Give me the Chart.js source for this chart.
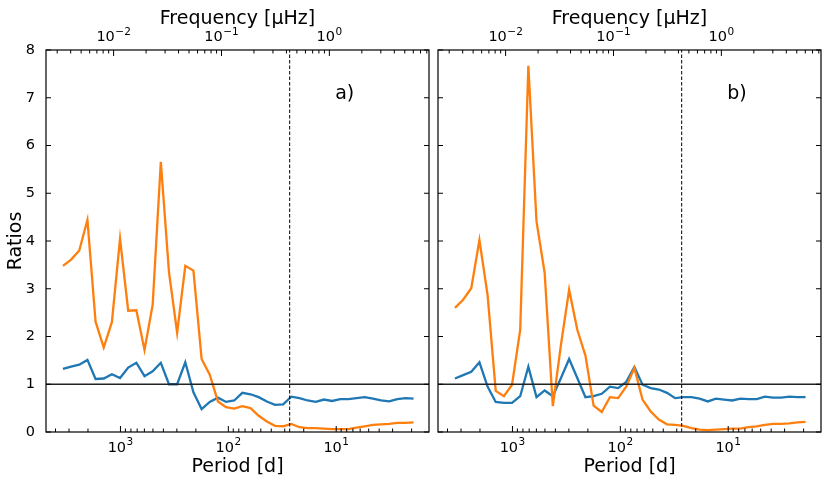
<!DOCTYPE html>
<html>
<head>
<meta charset="utf-8">
<script src="https://cdn.jsdelivr.net/npm/chart.js@4.4.1/dist/chart.umd.min.js"></script>
<style>
  body { margin: 0; background: #fff; width: 830px; height: 487px; position: relative; overflow: hidden; }
  canvas { position: absolute; top: 0; }
  #chartA { left: 0; }
  #chartB { left: 433px; }
</style>
</head>
<body>
<canvas id="chartA" width="433" height="487"></canvas>
<canvas id="chartB" width="397" height="487"></canvas>
<script>
// Periods [d] of the bins (same for both panels)
const periods = [3412, 2867, 2409, 2024, 1701, 1429, 1201, 1009, 847.7, 712.3,
  598.4, 502.9, 422.5, 355.0, 298.3, 250.6, 210.6, 176.9, 148.7, 124.9,
  104.9, 88.2, 74.1, 62.3, 52.3, 43.95, 36.93, 31.03, 26.07, 21.91,
  18.41, 15.47, 13.00, 10.92, 9.18, 7.71, 6.48, 5.44, 4.57, 3.84,
  3.23, 2.71, 2.28, 1.92];

// panel a)
const blueA = [1.32, 1.37, 1.41, 1.51, 1.11, 1.12, 1.21, 1.13, 1.35, 1.45,
  1.17, 1.27, 1.45, 1.00, 1.00, 1.46, 0.83, 0.48, 0.63, 0.72,
  0.63, 0.66, 0.82, 0.79, 0.73, 0.64, 0.57, 0.58, 0.74, 0.71,
  0.66, 0.63, 0.68, 0.65, 0.69, 0.69, 0.71, 0.73, 0.70, 0.66,
  0.64, 0.69, 0.71, 0.70];
const orangeA = [3.48, 3.61, 3.80, 4.44, 2.31, 1.77, 2.30, 4.05, 2.54, 2.55,
  1.72, 2.66, 5.66, 3.35, 2.08, 3.48, 3.38, 1.53, 1.20, 0.64,
  0.52, 0.49, 0.54, 0.50, 0.34, 0.22, 0.13, 0.12, 0.17, 0.10,
  0.08, 0.08, 0.07, 0.06, 0.06, 0.06, 0.09, 0.12, 0.15, 0.16,
  0.17, 0.19, 0.19, 0.20];

// panel b)
const blueB = [1.12, 1.19, 1.26, 1.46, 0.95, 0.63, 0.61, 0.61, 0.75, 1.37,
  0.73, 0.87, 0.75, 1.13, 1.53, 1.13, 0.73, 0.75, 0.80, 0.95,
  0.92, 1.05, 1.36, 0.99, 0.92, 0.89, 0.82, 0.71, 0.73, 0.73,
  0.70, 0.64, 0.70, 0.68, 0.66, 0.70, 0.69, 0.69, 0.74, 0.72,
  0.72, 0.74, 0.73, 0.73];
const orangeB = [2.60, 2.77, 3.01, 4.02, 2.87, 0.86, 0.75, 0.99, 2.14, 7.67,
  4.41, 3.33, 0.54, 1.83, 2.98, 2.14, 1.60, 0.55, 0.42, 0.73,
  0.71, 0.95, 1.34, 0.68, 0.43, 0.26, 0.16, 0.15, 0.13, 0.08,
  0.05, 0.04, 0.05, 0.06, 0.07, 0.07, 0.10, 0.12, 0.15, 0.17,
  0.17, 0.18, 0.20, 0.21];

// tick labels: base 10 with these exponents
const periodExps = [3, 2, 1];
const freqExps = [-2, -1, 0];
const periodRange = [1.38, 4900];   // days
const refRatio = 1;
const rotationPeriod = 27;          // days
const SEC_PER_DAY = 86400;

const toFreq = p => 1e6 / (p * SEC_PER_DAY);   // µHz
const FONT = '"DejaVu Sans", sans-serif';
const BLUE = '#1f77b4', ORANGE = '#ff7f0e';

function logTicks(min, max) {
  const out = [];
  for (let n = Math.floor(Math.log10(min)); n <= Math.ceil(Math.log10(max)); n++) {
    for (let k = 1; k < 10; k++) {
      const v = Number((k * Math.pow(10, n)).toPrecision(6));
      if (v >= min && v <= max) out.push(v);
    }
  }
  return out;
}
const decade = v => {
  const l = Math.log10(v);
  return Math.abs(l - Math.round(l)) < 1e-6 ? Math.round(l) : null;
};

// "10" with a raised exponent, centred on x, baseline at y
function powLabel(ctx, x, y, exp) {
  const e = String(exp).replace('-', '\u2212');
  ctx.font = '14.5px ' + FONT;
  const wb = ctx.measureText('10').width;
  ctx.font = '10.5px ' + FONT;
  const we = ctx.measureText(e).width;
  const x0 = x - (wb + we + 0.5) / 2;
  ctx.textAlign = 'left';
  ctx.textBaseline = 'alphabetic';
  ctx.font = '14.5px ' + FONT;
  ctx.fillText('10', x0, y);
  ctx.font = '10.5px ' + FONT;
  ctx.fillText(e, x0 + wb + 0.5, y - 6.5);
}

// inward ticks on all four sides, frame, power-of-ten labels and panel letter
const framePlugin = {
  id: 'frame',
  afterDraw(chart, args, opts) {
    const { ctx, chartArea: a, scales } = chart;
    ctx.save();
    ctx.strokeStyle = '#000';
    ctx.lineWidth = 1;
    const line = (x1, y1, x2, y2) => { ctx.beginPath(); ctx.moveTo(x1, y1); ctx.lineTo(x2, y2); ctx.stroke(); };
    scales.x.ticks.forEach(t => {
      const px = scales.x.getPixelForValue(t.value);
      line(px, a.bottom, px, a.bottom - (decade(t.value) !== null ? 6 : 3.5));
    });
    scales.x2.ticks.forEach(t => {
      const px = scales.x2.getPixelForValue(t.value);
      line(px, a.top, px, a.top + (decade(t.value) !== null ? 6 : 3.5));
    });
    scales.y.ticks.forEach(t => {
      const py = scales.y.getPixelForValue(t.value);
      line(a.left, py, a.left + 5, py);
      line(a.right, py, a.right - 5, py);
    });
    ctx.lineWidth = 1.2;
    ctx.strokeRect(a.left, a.top, a.width, a.height);

    ctx.fillStyle = '#000';
    periodExps.forEach(n => powLabel(ctx, scales.x.getPixelForValue(Math.pow(10, n)), a.bottom + 19.5, n));
    freqExps.forEach(n => powLabel(ctx, scales.x2.getPixelForValue(Math.pow(10, n)), a.top - 9, n));

    ctx.font = '19px ' + FONT;
    ctx.textAlign = 'left';
    ctx.textBaseline = 'middle';
    ctx.fillText(opts.label, a.left + a.width * 0.755, a.top + a.height * 0.115);
    ctx.restore();
  }
};

function makeChart(id, blue, orange, label, showY) {
  const pts = arr => periods.map((p, i) => ({ x: p, y: arr[i] }));
  return new Chart(document.getElementById(id), {
    type: 'line',
    data: {
      datasets: [
        { data: pts(blue), borderColor: BLUE, borderWidth: 2.3, order: 3 },
        { data: pts(orange), borderColor: ORANGE, borderWidth: 2.3, order: 2 },
        { data: [{ x: periodRange[0], y: refRatio }, { x: periodRange[1], y: refRatio }],
          borderColor: '#222', borderWidth: 1.3, order: 1 },
        { data: [{ x: rotationPeriod, y: 0 }, { x: rotationPeriod, y: 8 }],
          borderColor: '#000', borderWidth: 1, borderDash: [3.5, 2], order: 0 }
      ]
    },
    options: {
      responsive: false,
      animation: false,
      events: [],
      layout: { padding: { left: 0, right: showY ? 4 : 9, top: 0, bottom: 0 } },
      elements: { point: { radius: 0 }, line: { tension: 0, fill: false } },
      plugins: { legend: { display: false }, tooltip: { enabled: false }, frame: { label } },
      scales: {
        x: {
          type: 'logarithmic', position: 'bottom', reverse: true,
          min: periodRange[0], max: periodRange[1],
          grid: { display: false, drawTicks: false }, border: { display: false },
          afterBuildTicks: s => { s.ticks = logTicks(s.min, s.max).map(v => ({ value: v })); },
          afterFit: s => { s.height = 55; },
          ticks: { display: false, autoSkip: false },
          title: { display: true, text: 'Period [d]', color: '#000',
            font: { family: FONT, size: 19 }, padding: { top: 0, bottom: 9 } }
        },
        x2: {
          type: 'logarithmic', position: 'top',
          min: toFreq(periodRange[1]), max: toFreq(periodRange[0]),
          grid: { display: false, drawTicks: false }, border: { display: false },
          afterBuildTicks: s => { s.ticks = logTicks(s.min, s.max).map(v => ({ value: v })); },
          afterFit: s => { s.height = 50; },
          ticks: { display: false, autoSkip: false },
          title: { display: true, text: 'Frequency [μHz]', color: '#000',
            font: { family: FONT, size: 19 }, padding: { top: 7.5, bottom: 0 } }
        },
        y: {
          type: 'linear', min: 0, max: 8,
          grid: { display: false, drawTicks: false }, border: { display: false },
          afterFit: s => { s.width = showY ? 46 : 5; },
          ticks: { display: showY, stepSize: 1, padding: 11, color: '#000',
            font: { family: FONT, size: 14.5 } },
          title: { display: showY, text: 'Ratios', color: '#000',
            font: { family: FONT, size: 19 }, padding: { top: 5, bottom: 0 } }
        }
      }
    },
    plugins: [framePlugin]
  });
}

makeChart('chartA', blueA, orangeA, 'a)', true);
makeChart('chartB', blueB, orangeB, 'b)', false);
</script>
</body>
</html>
